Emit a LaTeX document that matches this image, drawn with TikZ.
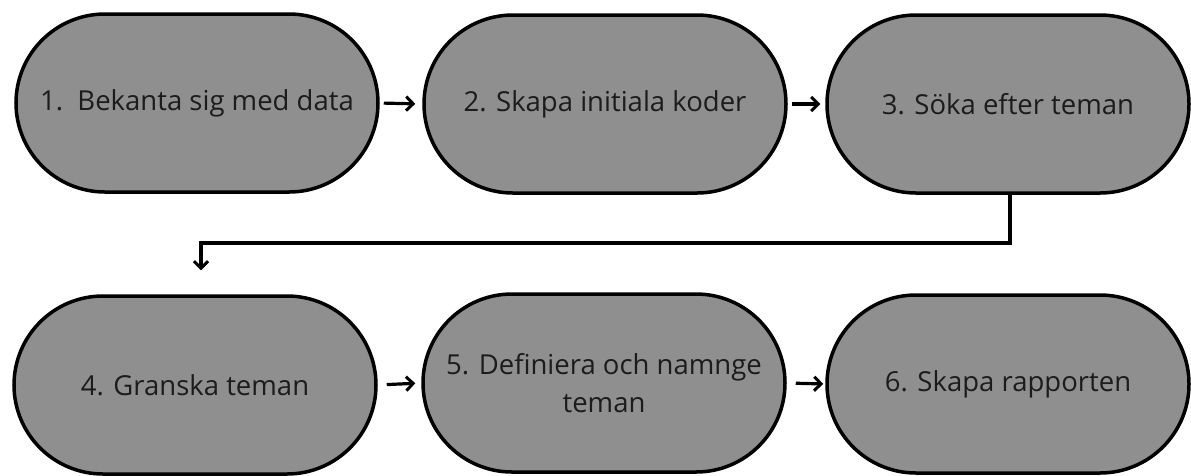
\documentclass[tikz,border=0pt]{standalone}
\usepackage{fontspec}
\setmainfont{Open Sans}
\usetikzlibrary{shapes.misc,arrows.meta,calc}
\definecolor{stepfill}{HTML}{8F8F8F}
\definecolor{steptext}{HTML}{1C1C1C}
\tikzset{
  stepbox/.style={rounded rectangle, draw=black, line width=3.5pt, fill=stepfill,
    minimum width=362pt, minimum height=178pt, inner sep=0pt, align=center,
    text=steptext, font=\fontsize{27.5}{38}\selectfont},
  arr/.style={line width=3.2pt, -{Straight Barb[length=7pt,width=14pt,line width=3pt]}},
}
\begin{document}
\begin{tikzpicture}[x=1pt,y=-1pt]
\useasboundingbox[fill=white] (0,0) rectangle (1191,475);
\node[stepbox] (n1) at (197,103) {1.\ \ Bekanta sig med data};
\node[stepbox] (n2) at (605,104) {2. Skapa initiala koder};
\node[stepbox] (n3) at (1008,104) {3. Söka efter teman};
\node[stepbox] (n4) at (195,385) {4. Granska teman};
\node[stepbox] (n5) at (604,383) {5. Definiera och namnge\\teman};
\node[stepbox] (n6) at (1008,384) {6. Skapa rapporten};
\draw[arr, shorten <=4pt, shorten >=7pt] (n1.east) -- (n2.west);
\draw[arr, shorten <=4pt, shorten >=5pt] (n2.east) -- (n3.west);
\draw[arr, shorten <=9pt, shorten >=6pt] (n4.east) -- (n5.west);
\draw[arr, shorten <=9pt, shorten >=2pt] (n5.east) -- (n6.west);
\coordinate (turn) at (201,243);
\draw[arr, shorten >=24pt] ([xshift=2pt]n3.south) |- (turn) -- (turn |- n4.north);
\end{tikzpicture}
\end{document}
